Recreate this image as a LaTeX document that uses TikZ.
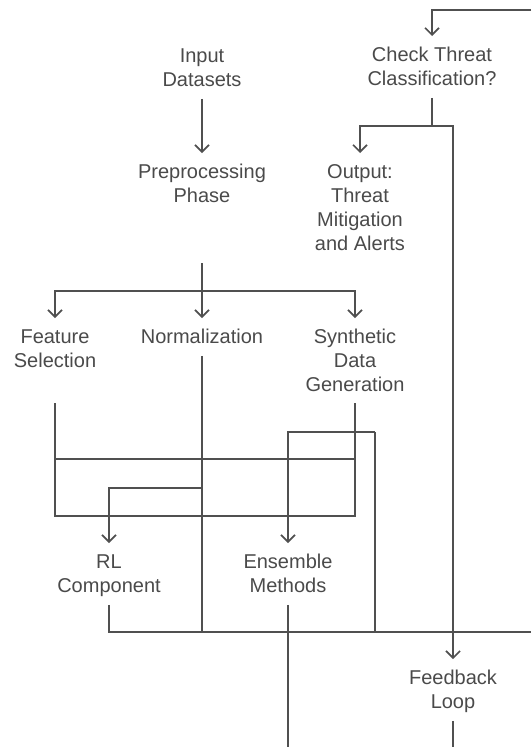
\documentclass[tikz,border=0pt]{standalone}
\usepackage{fontspec}
\setmainfont{Liberation Sans}
\usetikzlibrary{arrows.meta}
\definecolor{linegray}{HTML}{505050}
\definecolor{textgray}{HTML}{4A4A4A}
\newcommand{\topstrut}{\rule{0pt}{25.5pt}}
\newcommand{\botstrut}{\rule[-12pt]{0pt}{12pt}}

\begin{document}
\begin{tikzpicture}[x=1pt, y=-1pt,
  lbl/.style={anchor=north, inner sep=0pt, align=center, text=textgray,
    font=\fontsize{20}{24}\selectfont, execute at end node=\botstrut},
  link/.style={draw=linegray, line width=1.6pt},
  arr/.style={link, -{Straight Barb[length=7pt,width=14pt]}}]
\useasboundingbox (0,0) rectangle (531,747);
% labels
\node[lbl] (input) at (202,37) {\topstrut Input\\Datasets};
\node[lbl] (prep) at (202,153) {\topstrut Preprocessing\\Phase};
\node[lbl] (check) at (432,36) {\topstrut Check Threat\\Classification?};
\node[lbl] (output) at (360,153) {\topstrut Output:\\Threat\\Mitigation\\and Alerts};
\node[lbl] (feat) at (55,318) {\topstrut Feature\\Selection};
\node[lbl] (norm) at (202,318) {\topstrut Normalization};
\node[lbl] (synth) at (355,318) {\topstrut Synthetic\\Data\\Generation};
\node[lbl] (rl) at (109,543) {\topstrut RL\\Component};
\node[lbl] (ens) at (288,543) {\topstrut Ensemble\\Methods};
\node[lbl] (feed) at (453,659) {\topstrut Feedback\\Loop};
% free ends and forks
\coordinate (topin) at (531,10);
\coordinate (busend) at (531,632);
\coordinate (prepout) at (202,263);
\coordinate (fork) at (202,291);
\coordinate (featout) at (55,403);
\coordinate (synthout) at (355,403);
\coordinate (boxlow) at (55,516);
\coordinate (ensfork) at (375,432);
\coordinate (checkfork) at (432,126);
% connectors
\draw[arr] (input) -- (prep);
\draw[link] (prepout) -- (fork);
\draw[arr] (fork) -| (feat.north);
\draw[arr] (fork) -- (norm.north);
\draw[arr] (fork) -| (synth.north);
\draw[link] (featout) -- (boxlow) -| (synthout);
\draw[link] (featout |- 0,459) -- (synthout |- 0,459);
\draw[link] (norm.south) -- (norm.south |- busend);
\draw[arr] (norm.south |- 0,488) -| (rl.north);
\draw[arr] (ensfork) -| (ens.north);
\draw[link] (ensfork) -- (ensfork |- busend);
\draw[link] (rl.south) |- (busend);
\draw[link] (ens.south) -- (ens.south |- 0,747);
\draw[arr] (topin) -| (check.north);
\draw[link] (check.south) -- (checkfork);
\draw[arr] (checkfork) -| (output.north);
\draw[arr] (checkfork) -| (feed.north);
\draw[link] (feed.south) -- (feed.south |- 0,747);
\end{tikzpicture}
\end{document}
